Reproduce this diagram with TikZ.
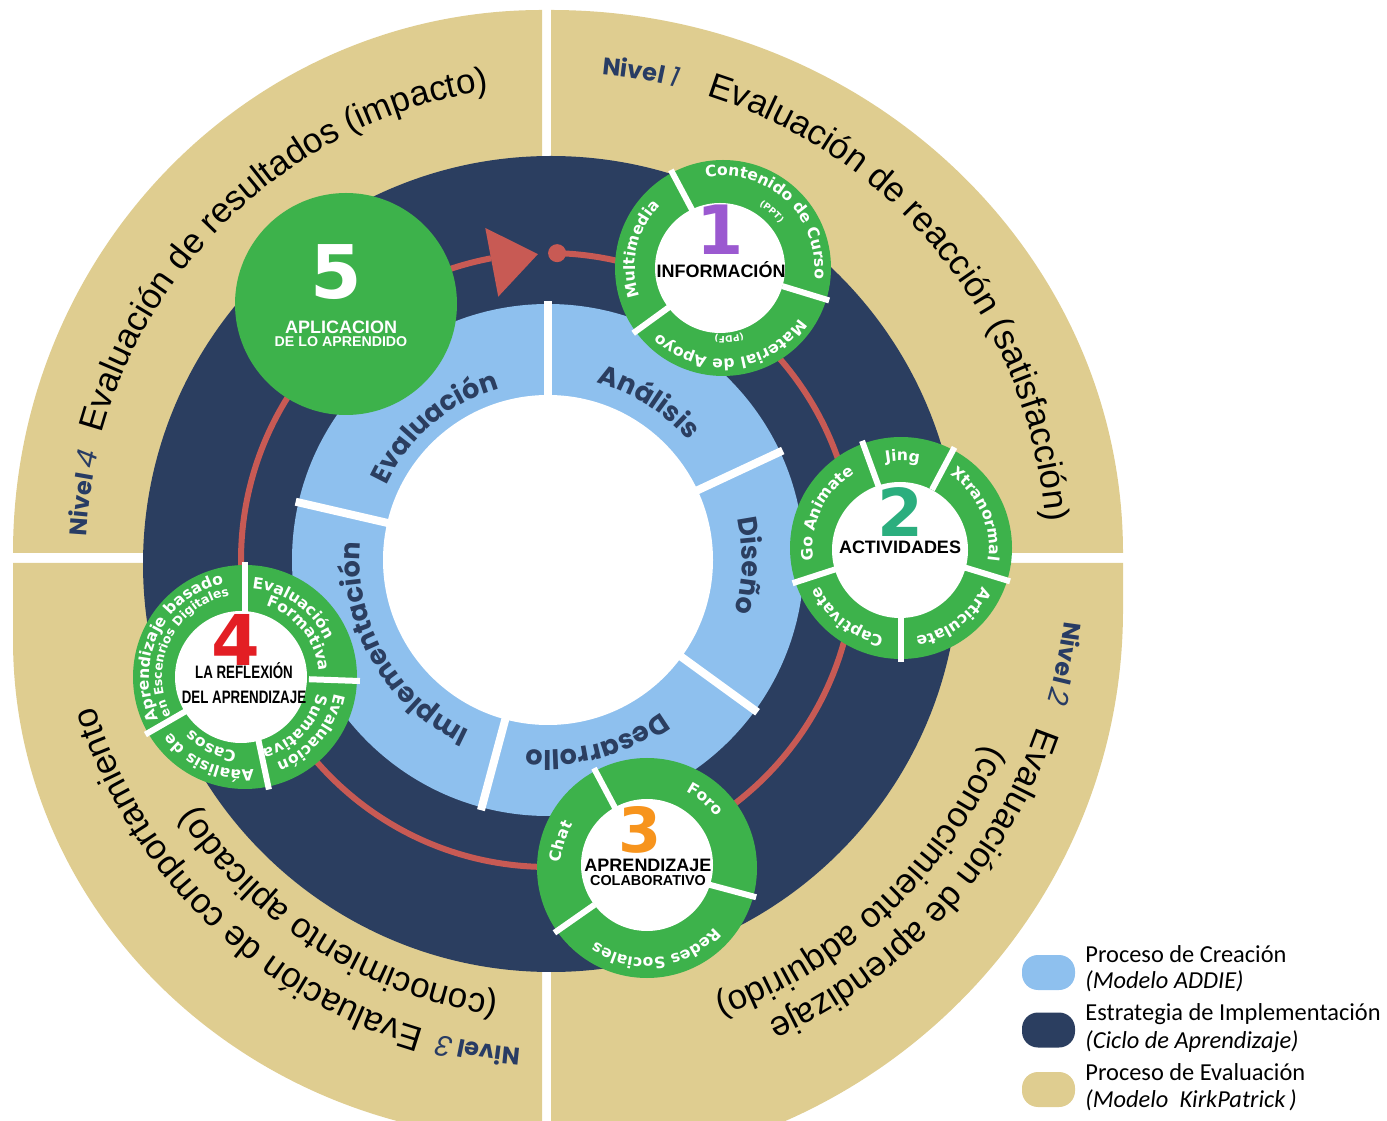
\documentclass[tikz,border=0pt]{standalone}
\usepackage{fontspec}
\usepackage{graphicx}
\setmainfont{Liberation Sans}
\newfontfamily\pop{Poppins}
\newfontfamily\dvs{DejaVu Sans}
\newfontfamily\carl{Carlito}
\usetikzlibrary{decorations.text,calc}
\definecolor{tanC}{HTML}{DFCD90}
\definecolor{navyC}{HTML}{2B3E60}
\definecolor{blueC}{HTML}{8EC0EE}
\definecolor{grnC}{HTML}{3DB24B}
\definecolor{redC}{HTML}{C85A54}
\definecolor{nivC}{HTML}{283C64}
\definecolor{purpC}{HTML}{9B59D0}
\definecolor{tealC}{HTML}{2BAE7E}
\definecolor{orgC}{HTML}{F7941D}
\definecolor{red4C}{HTML}{E31E24}
\newcommand\fring{\dvs\bfseries\fontsize{7.8}{8}\selectfont}
\newcommand\fringsm{\dvs\bfseries\fontsize{6.2}{7}\selectfont}
\newcommand\ftiny{\dvs\bfseries\fontsize{4.5}{5}\selectfont}
\newcommand\fblue{\pop\bfseries\fontsize{13.5}{14}\selectfont}
\newcommand\ftan{\fontsize{17.5}{18}\selectfont}
\newcommand\fniv{\pop\bfseries\fontsize{12}{13}\selectfont}
\newcommand\fdig{\pop\mdseries\itshape\fontsize{14}{14}\selectfont}
\newcommand\ftitle{\bfseries\fontsize{9}{10}\selectfont}
\newcommand\numf[1]{\dvs\bfseries\fontsize{#1}{#1}\selectfont}
\newcommand\arctext[7]{%
  \path[decorate,decoration={text along path,text align=center,text color=#6,text={|#5|#7}}]
    (#1) ++({#3+#4}:#2) arc[start angle={#3+#4}, end angle={#3-#4}, radius=#2];}
\tikzset{
  disc/.style={circle, inner sep=0pt, outer sep=0pt, draw=none},
  gdiv/.style={white, line width=3pt},
  bdiv/.style={white, line width=4pt},
  pill/.style={rectangle, rounded corners=8pt, minimum width=26.5pt, minimum height=17.5pt, inner sep=0pt},
  legtxt/.style={anchor=base west, inner sep=0pt, font=\carl\fontsize{12.2}{13}\selectfont}
}
\begin{document}
\begin{tikzpicture}[x=0.5pt,y=0.5pt]
\useasboundingbox (0,0) rectangle (1387,1120);
\coordinate (O) at (548,560);
\coordinate (T) at (560,560);
% tan quadrants
\begin{scope}
\clip (0,0) rectangle (1387,1120);
\fill[tanC] (542,567) -- (13,567) arc[start angle=180,end angle=90,x radius=529,y radius=543] -- cycle;
\fill[tanC] (551,567) -- (551,1110) arc[start angle=90,end angle=0,x radius=572,y radius=543] -- cycle;
\fill[tanC] (542,557) -- (13,557) -- (13,480) arc[start angle=180,end angle=270,x radius=529,y radius=500] -- cycle;
\fill[tanC] (551,557) -- (1123,557) -- (1123,510) arc[start angle=0,end angle=-90,x radius=572,y radius=560] -- cycle;
\end{scope}
% tan texts
\arctext{T}{475}{131.6}{45}{\ftan}{black}{Evaluación de resultados (impacto)}
\arctext{T}{474}{172}{12}{\fniv}{nivC}{Nivel |\fdig|4}
\arctext{T}{487}{80.6}{12}{\fniv}{nivC}{Nivel |\fdig|1}
\arctext{T}{487}{38.5}{45}{\ftan}{black}{Evaluación de reacción (satisfacción)}
\arctext{T}{508}{-11.6}{10}{\fniv}{nivC}{Nivel |\fdig|2}
\arctext{T}{506}{-42.5}{35}{\ftan}{black}{Evaluación de aprendizaje}
\arctext{T}{465}{-47}{35}{\ftan}{black}{(conocimiento adquirido)}
\arctext{T}{490}{260.5}{10}{\fniv}{nivC}{Nivel |\fdig|3}
\arctext{T}{488}{225.7}{40}{\ftan}{black}{Evaluación de comportamiento}
\arctext{T}{441}{238}{40}{\ftan}{black}{(conocimiento aplicado)}
% navy, blue, white
\node[disc, fill=navyC, minimum size=408pt] (navy) at (551,556) {};
\node[disc, fill=blueC, minimum size=256pt] (blue) at (O) {};
\node[disc, fill=white, minimum size=165pt] (hole) at (O) {};
\foreach \a in {90,25,-36,-105,167} \draw[bdiv] (O) ++(\a:162) -- ++(\a:97);
\arctext{O}{184}{57.5}{40}{\fblue}{navyC}{Análisis}
\arctext{O}{194}{-1.5}{30}{\fblue}{navyC}{Diseño}
\arctext{O}{190}{-75}{40}{\fblue}{navyC}{Desarrollo}
\arctext{O}{188}{210}{50}{\fblue}{navyC}{Implementación}
\arctext{O}{178}{130.5}{40}{\fblue}{navyC}{Evaluación}
% red cycle
\draw[redC, line width=3pt] (O) ++(88.3:307) arc[start angle=88.3, end angle=-259.3, radius=307];
\fill[redC] ($(O)+(91.9:306)$) -- ($(O)+(100.7:338)$) -- ($(O)+(100.7:268)$) -- cycle;
\fill[redC] (O) ++(88.3:307) circle[radius=9];
% circle 1
\node[disc, fill=grnC, minimum size=108pt] (c1) at (723,852) {};
\node[disc, fill=white, minimum size=65pt] (c1w) at (720,852) {};
\foreach \a in {118,-17,216} \draw[gdiv] (c1.center) ++(\a:62) -- ++(\a:49);
\arctext{c1.center}{92}{47}{75}{\fring}{white}{Contenido de Curso}
\arctext{c1.center}{72}{49}{30}{\ftiny}{white}{(PPT)}
\arctext{c1.center}{91}{-84}{70}{\fring}{white}{Material de Apoyo}
\arctext{c1.center}{68}{-85}{30}{\ftiny}{white}{(PDF)}
\arctext{c1.center}{88}{167}{50}{\fring}{white}{Multimedia}
\node[text=purpC] (n1) at (720,890) {\numf{34}1};
\node (t1) at (721,850) {\ftitle INFORMACIÓN};
% circle 2
\node[disc, fill=grnC, minimum size=111pt] (c2) at (901,572) {};
\node[disc, fill=white, minimum size=68pt] (c2w) at (900,570) {};
\foreach \a in {110,62,-17,-90,198} \draw[gdiv] (c2.center) ++(\a:66) -- ++(\a:48);
\arctext{c2.center}{87}{89}{30}{\fring}{white}{Jing}
\arctext{c2.center}{88}{24}{45}{\fring}{white}{Xtranormal}
\arctext{c2.center}{90}{-53}{40}{\fring}{white}{Articulate}
\arctext{c2.center}{90}{-128}{40}{\fring}{white}{Captivate}
\arctext{c2.center}{88}{155}{45}{\fring}{white}{Go Animate}
\node[text=tealC] (n2) at (900,608) {\numf{33}2};
\node (t2) at (900,573) {\ftitle ACTIVIDADES};
% circle 3
\node[disc, fill=grnC, minimum size=110pt] (c3) at (647,252) {};
\node[disc, fill=white, minimum size=66pt] (c3w) at (647,255) {};
\foreach \a in {118,-15,215} \draw[gdiv] (c3.center) ++(\a:64) -- ++(\a:49);
\arctext{c3.center}{86}{50}{30}{\fring}{white}{Foro}
\arctext{c3.center}{90}{-83}{60}{\fring}{white}{Redes Sociales}
\arctext{c3.center}{86}{163}{30}{\fring}{white}{Chat}
\node[text=orgC] (n3) at (640,290) {\numf{31}3};
\node (t3a) at (648,255) {\ftitle APRENDIZAJE};
\node (t3b) at (648,239) {\bfseries\fontsize{7.2}{8}\selectfont COLABORATIVO};
% circle 4
\node[disc, fill=grnC, minimum size=112pt] (c4) at (245,443) {};
\node[disc, fill=white, minimum size=66pt] (c4w) at (241,443) {};
\foreach \a in {90,-2,-78,210} \draw[gdiv] (c4.center) ++(\a:64) -- ++(\a:51);
\arctext{c4.center}{89}{55}{45}{\fring}{white}{Evaluación}
\arctext{c4.center}{74}{39}{50}{\fring}{white}{Formativa}
\arctext{c4.center}{91}{-40}{45}{\fring}{white}{Evaluación}
\arctext{c4.center}{74}{-45}{45}{\fring}{white}{Sumativa}
\arctext{c4.center}{93}{-114}{45}{\fring}{white}{Aáalisis de}
\arctext{c4.center}{75}{-116}{30}{\fring}{white}{Casos}
\arctext{c4.center}{96}{154.5}{60}{\fring}{white}{Aprendizaje basado}
\arctext{c4.center}{83}{154}{60}{\fringsm}{white}{en Escenrios Digitales}
\node[text=red4C] (n4) at (236,480) {\numf{35}4};
\node (t4a) at (244,449) {\scalebox{0.74}[1]{\ftitle LA REFLEXIÓN}};
\node (t4b) at (244,423) {\scalebox{0.74}[1]{\ftitle DEL APRENDIZAJE}};
% circle 5
\node[disc, fill=grnC, minimum size=111pt] (c5) at (346,816) {};
\node[text=white] (n5) at (336,848) {\numf{37}5};
\node[text=white] (t5a) at (341,793) {\ftitle APLICACION};
\node[text=white] (t5b) at (341,778) {\bfseries\fontsize{7.1}{8}\selectfont DE LO APRENDIDO};
% legend
\node[pill, fill=blueC] (leg1) at (1048.5,147.5) {};
\node[pill, fill=navyC] (leg2) at (1048.5,90) {};
\node[pill, fill=tanC] (leg3) at (1048.5,30.5) {};
\node[legtxt] (lt1) at (1085,158) {Proceso de Creación};
\node[legtxt] (lt2) at (1085,132) {\itshape (Modelo ADDIE)};
\node[legtxt] (lt3) at (1085,100) {Estrategia de Implementación};
\node[legtxt] (lt4) at (1085,72) {\itshape (Ciclo de Aprendizaje)};
\node[legtxt] (lt5) at (1085,40) {Proceso de Evaluación};
\node[legtxt] (lt6) at (1085,13) {\itshape (Modelo~ KirkPatrick\,)};
\end{tikzpicture}
\end{document}
